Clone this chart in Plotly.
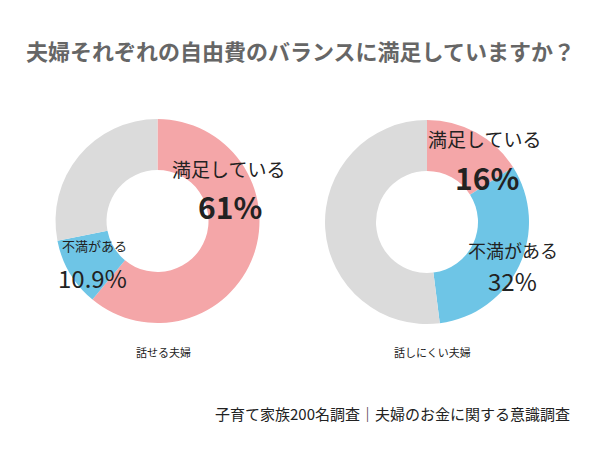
import plotly.graph_objects as go

labels = ["満足している", "不満がある", "その他"]
talk_easy = [61, 10.9, 28.1]
talk_hard = [16, 32, 52]
group_names = ["話せる夫婦", "話しにくい夫婦"]
colors = ["#F4A6A8", "#6EC5E6", "#DBDBDB"]
title = "夫婦それぞれの自由費のバランスに満足していますか？"
source = "子育て家族200名調査｜夫婦のお金に関する意識調査"

FONT = "Noto Sans CJK JP"
OFF = 8  # page body margin


def px(x):
    return (x - OFF) / 600


def py(y):
    return 1 - (y - OFF) / 450


def donut(values, cx, cy, r):
    fig.add_trace(go.Pie(labels=labels, values=values, hole=0.5, sort=False,
                         direction="clockwise", rotation=0,
                         marker=dict(colors=colors), textinfo="none", hoverinfo="label+value",
                         domain=dict(x=[px(cx - r), px(cx + r)], y=[py(cy + r), py(cy - r)])))


fig = go.Figure()
donut(talk_easy, 157.5, 221, 102)
donut(talk_hard, 427, 222, 102)


def note(x, y, text, size, bold=False, color="#222222", anchor="left"):
    fig.add_annotation(x=px(x), y=py(y), xref="paper", yref="paper",
                       text="<b>%s</b>" % text if bold else text, showarrow=False,
                       xanchor=anchor, yanchor="middle",
                       font=dict(family=FONT, size=size, color=color))


# left donut labels
note(170, 168, labels[0], 19)
note(196, 206, "%d%%" % talk_easy[0], 30, bold=True)
note(60, 246, labels[1], 13)
note(56, 277, "%.1f%%" % talk_easy[1], 24)
# right donut labels
note(426, 138, labels[0], 19)
note(453, 177, "%d%%" % talk_hard[0], 30, bold=True)
note(466, 250, labels[1], 18)
note(486, 280, "%d%%" % talk_hard[1], 24)

note(163, 352, group_names[0], 11, anchor="center")
note(432, 352, group_names[1], 11, anchor="center")
note(392, 413, source, 15, anchor="center")
note(300, 50, title, 22, bold=True, color="#666666", anchor="center")

fig.update_layout(width=600, height=450, margin=dict(l=0, r=0, t=0, b=0),
                  showlegend=False, paper_bgcolor="white", plot_bgcolor="white")
fig.write_html("out.html")
